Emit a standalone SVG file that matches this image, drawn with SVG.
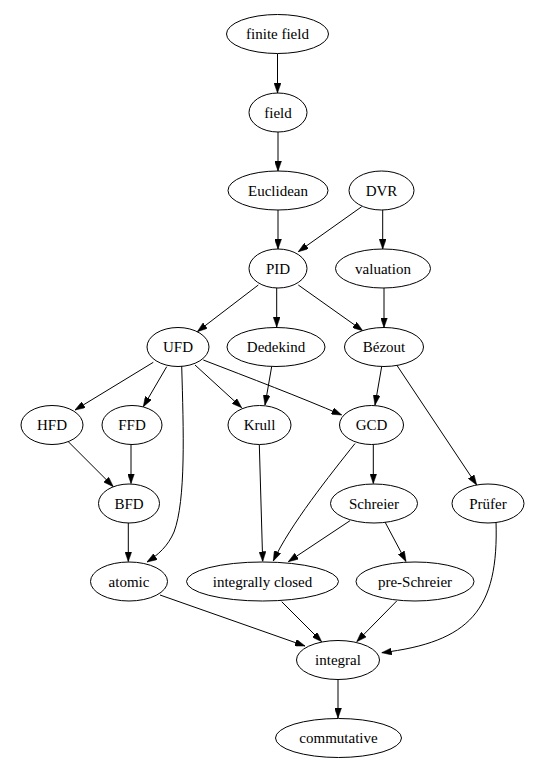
<svg xmlns="http://www.w3.org/2000/svg" width="540" height="765" viewBox="0 0 540 765">
<defs>
<style>
.n ellipse{fill:#fff;stroke:#000;stroke-width:1}
.n text{font-family:"Liberation Serif","Times New Roman",serif;font-size:15px;text-anchor:middle;fill:#000}
.e path{fill:none;stroke:#000;stroke-width:1;marker-end:url(#ah)}
</style>
<marker id="ah" markerUnits="userSpaceOnUse" viewBox="0 0 10 7" refX="10" refY="3.5" markerWidth="10" markerHeight="7" orient="auto">
<path d="M0,0 L10,3.5 L0,7 z" fill="#000" stroke="#000" stroke-width="0.5"/>
</marker>
</defs>
<rect width="540" height="765" fill="#fff"/>
<g id="edges" class="e">
<path d="M277.5,53.5 L277.5,93"/>
<path d="M278,132 L278,171"/>
<path d="M278,210 L278,249"/>
<path d="M361.7,206.7 L298.3,251.7"/>
<path d="M382.7,210 L382.7,249"/>
<path d="M258.3,285 L197.3,331.7"/>
<path d="M276.7,288 L276.7,327"/>
<path d="M298.3,285 L362.7,330.7"/>
<path d="M384,288 L384,327.5"/>
<path d="M153.3,362.3 L75,410"/>
<path d="M166.7,366.7 L143.3,406.7"/>
<path d="M181.7,366 C183.5,430 186,500 174,532 C168,546 158,555 147,562"/>
<path d="M195,365 L241.7,407.7"/>
<path d="M203.3,360 C250,378 300,397 341.7,415"/>
<path d="M271.7,366.5 L265,405"/>
<path d="M381.7,366.5 L375,405"/>
<path d="M396.7,365 L476.7,485"/>
<path d="M68.3,441.7 L113.3,486.7"/>
<path d="M131,444.5 L131,483.5"/>
<path d="M259.3,444.5 L262.7,561.5"/>
<path d="M355,443.5 C330,475 290,525 273.3,561"/>
<path d="M373.3,444.5 L373.3,483.5"/>
<path d="M350,520.7 L288.3,561.7"/>
<path d="M385,522 L406,561.5"/>
<path d="M128.3,523 L128.3,561.5"/>
<path d="M160,595 L305,646"/>
<path d="M281.7,601.7 L321.7,641.7"/>
<path d="M396.7,601 L356.7,641.7"/>
<path d="M496,521 C499,610 470,642 381.7,652.7"/>
<path d="M338,679.5 L338,718"/>
</g>
<g id="finite_field" class="n"><ellipse cx="277.5" cy="34" rx="51" ry="19.5"/><text x="277.5" y="39">finite field</text></g>
<g id="field" class="n"><ellipse cx="278" cy="112.5" rx="29" ry="19.5"/><text x="278" y="117.5">field</text></g>
<g id="Euclidean" class="n"><ellipse cx="278" cy="190.5" rx="50" ry="19.5"/><text x="278" y="195.5">Euclidean</text></g>
<g id="DVR" class="n"><ellipse cx="381.5" cy="190.5" rx="32.5" ry="19.5"/><text x="381.5" y="195.5">DVR</text></g>
<g id="PID" class="n"><ellipse cx="278" cy="268.5" rx="29" ry="19.5"/><text x="278" y="273.5">PID</text></g>
<g id="valuation" class="n"><ellipse cx="383" cy="268.5" rx="47.5" ry="19.5"/><text x="383" y="273.5">valuation</text></g>
<g id="UFD" class="n"><ellipse cx="178" cy="347" rx="31" ry="19.5"/><text x="178" y="352">UFD</text></g>
<g id="Dedekind" class="n"><ellipse cx="276" cy="347" rx="49" ry="19.5"/><text x="276" y="352">Dedekind</text></g>
<g id="Bezout" class="n"><ellipse cx="384" cy="347" rx="39.5" ry="19.5"/><text x="384" y="352">Bézout</text></g>
<g id="HFD" class="n"><ellipse cx="52" cy="425" rx="31" ry="19.5"/><text x="52" y="430">HFD</text></g>
<g id="FFD" class="n"><ellipse cx="132" cy="425" rx="30" ry="19.5"/><text x="132" y="430">FFD</text></g>
<g id="Krull" class="n"><ellipse cx="259.5" cy="425" rx="31.5" ry="19.5"/><text x="259.5" y="430">Krull</text></g>
<g id="GCD" class="n"><ellipse cx="371.5" cy="425" rx="32" ry="19.5"/><text x="371.5" y="430">GCD</text></g>
<g id="BFD" class="n"><ellipse cx="129" cy="503.5" rx="30.5" ry="19.5"/><text x="129" y="508.5">BFD</text></g>
<g id="Schreier" class="n"><ellipse cx="374" cy="503.5" rx="43.5" ry="19.5"/><text x="374" y="508.5">Schreier</text></g>
<g id="Prufer" class="n"><ellipse cx="488" cy="503.5" rx="36" ry="19.5"/><text x="488" y="508.5">Prüfer</text></g>
<g id="atomic" class="n"><ellipse cx="129" cy="581.5" rx="38.5" ry="19.5"/><text x="129" y="586.5">atomic</text></g>
<g id="integrally_closed" class="n"><ellipse cx="262.5" cy="581.5" rx="76" ry="19.5"/><text x="262.5" y="586.5">integrally closed</text></g>
<g id="pre_Schreier" class="n"><ellipse cx="415" cy="581.5" rx="59" ry="19.5"/><text x="415" y="586.5">pre-Schreier</text></g>
<g id="integral" class="n"><ellipse cx="338" cy="660" rx="41.5" ry="19.5"/><text x="338" y="665">integral</text></g>
<g id="commutative" class="n"><ellipse cx="338.5" cy="738" rx="63" ry="19.5"/><text x="338.5" y="743">commutative</text></g>
</svg>
